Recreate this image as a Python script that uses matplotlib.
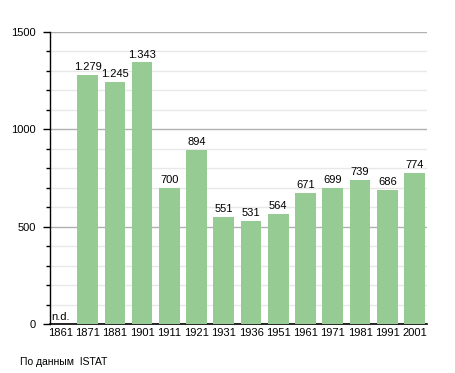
import matplotlib.pyplot as plt
from matplotlib.ticker import MultipleLocator

years = ["1861", "1871", "1881", "1901", "1911", "1921", "1931",
         "1936", "1951", "1961", "1971", "1981", "1991", "2001"]
population = [0, 1279, 1245, 1343, 700, 894, 551, 531, 564, 671, 699, 739, 686, 774]
labels = ["n.d.", "1.279", "1.245", "1.343", "700", "894", "551", "531",
          "564", "671", "699", "739", "686", "774"]

plt.rcParams['font.family'] = ['Liberation Sans', 'DejaVu Sans']

fig = plt.figure(figsize=(4.55, 3.73), dpi=100)
ax = fig.add_axes([0.110, 0.1314, 0.828, 0.783])

x = list(range(len(years)))
ax.bar(x[1:], population[1:], width=0.76, color="#97cb94", zorder=3)

for i, (v, t) in enumerate(zip(population, labels)):
    if i == 0:
        ax.text(i - 0.35, 12, t, ha="left", va="bottom", fontsize=8, zorder=4)
    else:
        ax.text(i, v + 15, t, ha="center", va="bottom", fontsize=8, zorder=4)

ax.set_xlim(-0.38, 13.45)
ax.set_ylim(0, 1500)
ax.set_xticks(x)
ax.set_xticklabels(years, fontsize=8)
ax.tick_params(axis="x", length=0, pad=3)

ax.yaxis.set_major_locator(MultipleLocator(500))
ax.yaxis.set_minor_locator(MultipleLocator(100))
ax.tick_params(axis="y", which="major", length=5, width=1, labelsize=8, pad=5)
ax.tick_params(axis="y", which="minor", length=3, width=1)
ax.grid(axis="y", which="major", color="#b0b0b0", lw=1, zorder=1)
ax.grid(axis="y", which="minor", color="#e8e8e8", lw=1, zorder=1)

ax.spines['right'].set_visible(False)
ax.spines['top'].set_visible(False)
ax.spines['left'].set_linewidth(1)
ax.spines['bottom'].set_linewidth(1.2)

fig.text(20 / 455, 1 - 362 / 373, "По данным  ISTAT", fontsize=7.5, va="center")

plt.savefig("out.png")
